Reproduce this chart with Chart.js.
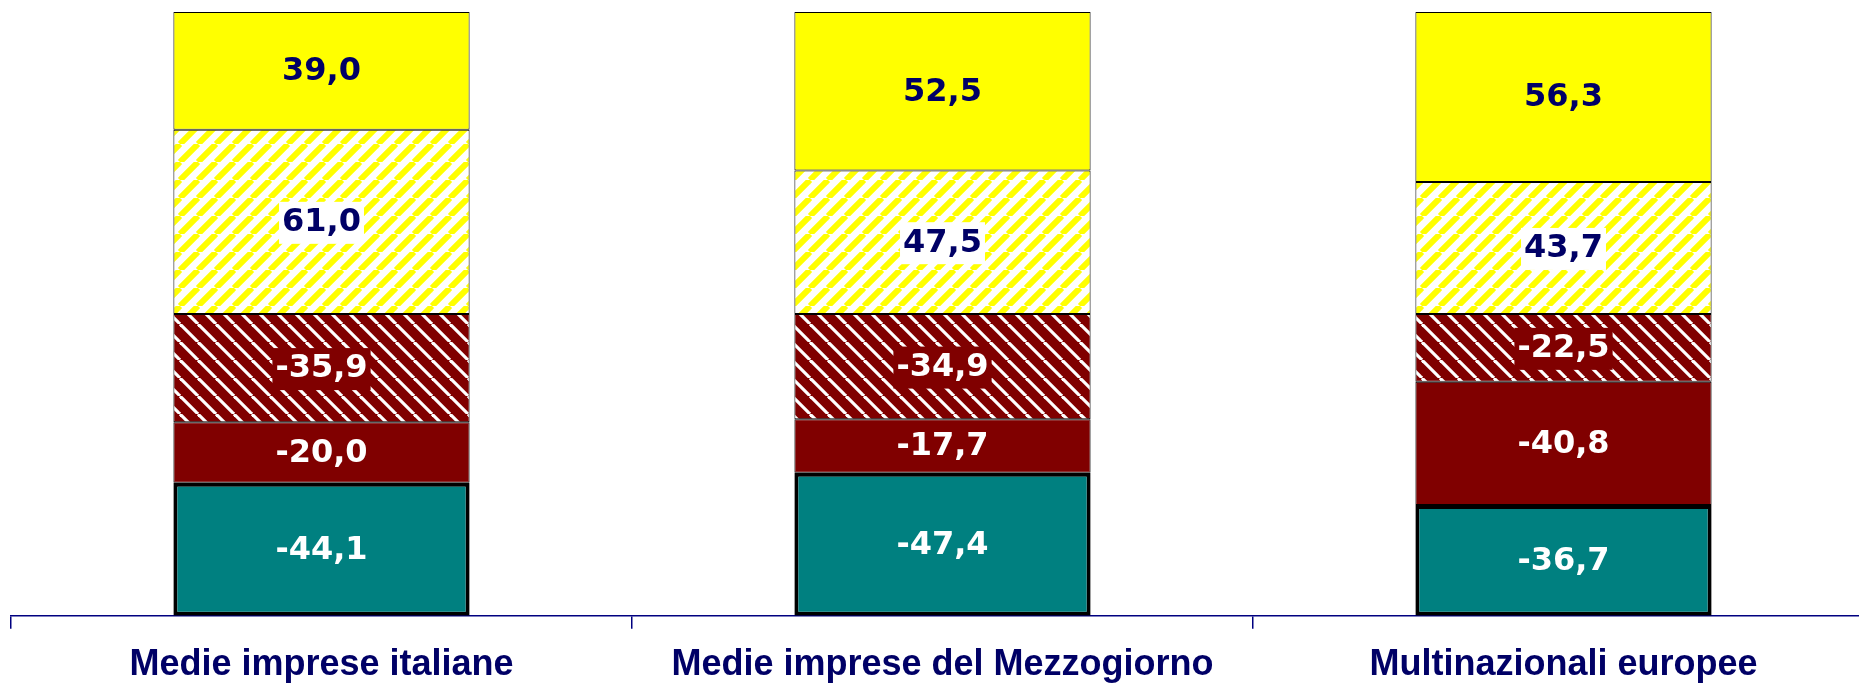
<!DOCTYPE html>
<html>
<head>
<meta charset="utf-8">
<script src="https://cdn.jsdelivr.net/npm/chart.js@4.4.1/dist/chart.umd.min.js"></script>
<style>
html,body{margin:0;padding:0;background:#fff;overflow:hidden;}
#wrap{width:1859px;height:684px;position:relative;overflow:hidden;}
</style>
</head>
<body>
<div id="wrap"><canvas id="c" width="1876" height="684"></canvas></div>
<script>
// ---- data (values as shown on the chart) ----
const categories = ['Medie imprese italiane', 'Medie imprese del Mezzogiorno', 'Multinazionali europee'];
const tealValues = [-44.1, -47.4, -36.7];
const redSolidValues = [-20.0, -17.7, -40.8];
const redHatchValues = [-35.9, -34.9, -22.5];
const yellowHatchValues = [61.0, 47.5, 43.7];
const yellowSolidValues = [39.0, 52.5, 56.3];
const axisMax = 200;

// ---- patterns ----
function makeHatch(bg, fg, lineW, dir) {
  const P = 18;
  const t = document.createElement('canvas');
  t.width = P; t.height = P;
  const g = t.getContext('2d');
  g.fillStyle = bg; g.fillRect(0, 0, P, P);
  g.strokeStyle = fg; g.lineWidth = lineW;
  for (const k of [-P, 0, P]) {
    g.beginPath();
    if (dir === '/') { g.moveTo(k, P); g.lineTo(k + P, 0); }
    else { g.moveTo(k, 0); g.lineTo(k + P, P); }
    g.stroke();
  }
  return g.createPattern(t, 'repeat');
}
const ctx = document.getElementById('c').getContext('2d');
const yellowHatch = makeHatch('#ffffff', '#ffff00', 6, '/');
const redHatch = makeHatch('#800000', '#ffffff', 3.2, '\\');

const abs = a => a.map(v => Math.abs(v));
const fmt = v => v.toFixed(1).replace('.', ',');

const NAVY = '#000066';
const datasets = [
  {label: 'teal', data: abs(tealValues), raw: tealValues, backgroundColor: '#008080', borderColor: '#000000', borderWidth: 4, txt: '#ffffff', box: null},
  {label: 'red', data: abs(redSolidValues), raw: redSolidValues, backgroundColor: '#800000', borderColor: '#000000', borderWidth: 1, txt: '#ffffff', box: null},
  {label: 'redHatch', data: abs(redHatchValues), raw: redHatchValues, backgroundColor: redHatch, borderColor: '#000000', borderWidth: 1, txt: '#ffffff', box: '#800000'},
  {label: 'yellowHatch', data: abs(yellowHatchValues), raw: yellowHatchValues, backgroundColor: yellowHatch, borderColor: '#000000', borderWidth: 1, txt: NAVY, box: '#ffffff'},
  {label: 'yellow', data: abs(yellowSolidValues), raw: yellowSolidValues, backgroundColor: '#ffff00', borderColor: '#000000', borderWidth: 1, txt: NAVY, box: null}
];

const labelPlugin = {
  id: 'segLabels',
  afterDatasetsDraw(chart) {
    const c = chart.ctx;
    c.save();
    c.font = 'bold 32px "DejaVu Sans", Verdana, sans-serif';
    c.textAlign = 'center';
    c.textBaseline = 'middle';
    chart.data.datasets.forEach((ds, di) => {
      const meta = chart.getDatasetMeta(di);
      meta.data.forEach((el, i) => {
        const p = el.getProps(['x', 'y', 'base'], true);
        const cy = (p.y + p.base) / 2;
        const s = fmt(ds.raw[i]);
        if (ds.box) {
          const w = c.measureText(s).width + 6;
          c.fillStyle = ds.box;
          c.fillRect(p.x - w / 2, cy - 20, w, 42);
        }
        c.fillStyle = ds.txt;
        c.fillText(s, p.x, cy + 1);
      });
    });
    c.restore();
  }
};

new Chart(ctx, {
  type: 'bar',
  data: {labels: categories, datasets: datasets},
  options: {
    responsive: false,
    animation: false,
    layout: {padding: {left: 11, right: 2, top: 12, bottom: -18}},
    plugins: {legend: {display: false}, tooltip: {enabled: false}},
    datasets: {bar: {categoryPercentage: 1.0, barPercentage: 0.477, borderSkipped: false}},
    scales: {
      x: {
        stacked: true,
        grid: {display: true, drawOnChartArea: false, drawTicks: true, tickLength: 13, color: '#000080', lineWidth: 1.5, offset: true},
        border: {display: true, color: '#000080', width: 1.5},
        ticks: {color: NAVY, padding: 15, maxRotation: 0, minRotation: 0, autoSkip: false,
                font: {family: '"Liberation Sans", Arial, sans-serif', size: 36, weight: 'bold'}}
      },
      y: {stacked: true, display: false, min: 0, max: axisMax}
    }
  },
  plugins: [labelPlugin]
});
</script>
</body>
</html>
